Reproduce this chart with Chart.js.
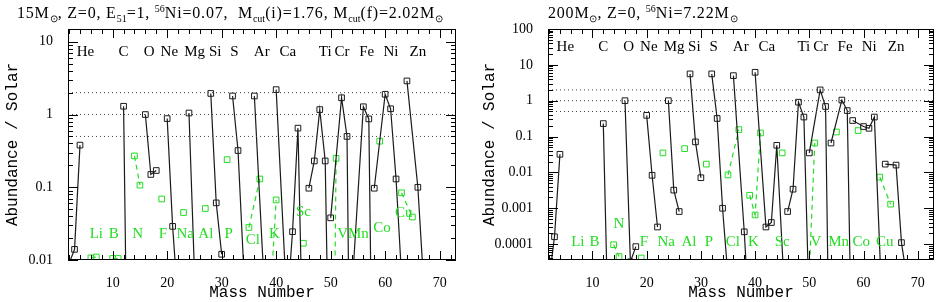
<!DOCTYPE html>
<html>
<head>
<meta charset="utf-8">
<script src="https://cdn.jsdelivr.net/npm/chart.js@4"></script>
<style>
body { margin: 0; background: #fff; width: 941px; height: 302px; overflow: hidden; position: relative; font-family: 'Liberation Serif', serif; }
.panel { position: absolute; top: 0; height: 302px; }
#p1 { left: 0; width: 470px; }
#p2 { left: 470px; width: 471px; }
.title { position: absolute; top: 2px; font-size: 16px; letter-spacing: 0.8px; white-space: pre; color: #000; line-height: 22px; }
.title sub, .title sup { font-size: 10px; line-height: 0; letter-spacing: 0; }
</style>
</head>
<body>
<div class="panel" id="p1">
  <canvas id="c1" width="470" height="302"></canvas>
  <div class="title" style="left:17px">15M<sub>⊙</sub>, Z=0, E<sub>51</sub>=1, <sup>56</sup>Ni=0.07,  M<sub>cut</sub>(i)=1.76, M<sub>cut</sub>(f)=2.02M<sub>⊙</sub></div>
</div>
<div class="panel" id="p2">
  <canvas id="c2" width="471" height="302"></canvas>
  <div class="title" style="left:78px">200M<sub>⊙</sub>, Z=0, <sup>56</sup>Ni=7.22M<sub>⊙</sub></div>
</div>
<script>
// even-Z elements (black), one list of mass numbers per element
const evenElements = ['He', 'C', 'O', 'Ne', 'Mg', 'Si', 'S', 'Ar', 'Ca', 'Ti', 'Cr', 'Fe', 'Ni', 'Zn'];
const evenMass = [[2, 3, 4], [12, 13], [16, 17, 18], [20, 21, 22], [24, 25, 26], [28, 29, 30], [32, 33, 34, 36],
    [36, 38, 40], [40, 42, 43, 44, 46, 48], [46, 47, 48, 49, 50], [50, 52, 53, 54], [54, 56, 57, 58],
    [58, 60, 61, 62, 64], [64, 66, 67, 68, 70]];
const evenLeft = [[0.009, 0.014, 0.38], [1.3, 3e-6], [1.0, 0.15, 0.17], [0.88, 0.029, 0.0025], [1.05, 0.007, 0.004],
    [1.95, 0.061, 0.012], [1.8, 0.32, 0.009, 1e-6], [1.8, 0.0023, 1e-6], [2.2, 0.0022, 0.0245, 0.65, 1e-7, 1e-8],
    [0.097, 0.23, 1.17, 0.23, 1e-5], [0.038, 1.7, 0.5, 1e-7], [0.005, 1.28, 0.87, 1e-6],
    [0.097, 1.9, 1.2, 0.13, 3e-4], [2.9, 0.1, 0.0058, 1e-4, 1e-6]];
const evenRight = [[1e-5, 1.6e-4, 0.032], [0.23, 1e-7], [1.0, 3.2e-5, 8.5e-5], [0.39, 0.0083, 3.0e-4], [1.0, 0.0032, 8.1e-4],
    [5.6, 0.071, 0.0071], [5.6, 0.32, 0.001, 1.4e-7], [5.0, 2.2e-4, 1e-9], [6.2, 3.0e-4, 4.0e-4, 0.057, 1e-7, 1e-8],
    [8.1e-4, 0.0034, 0.91, 0.35, 1.1e-6], [0.035, 2.0, 0.69, 1e-11], [0.066, 1.04, 0.53, 2e-9],
    [0.28, 0.19, 0.17, 0.35, 1.2e-8], [0.017, 0.016, 1.1e-4, 1.1e-5, 1e-7]];

// odd-Z elements (green)
const oddElements = ['Li', 'B', 'N', 'F', 'Na', 'Al', 'P', 'Cl', 'K', 'Sc', 'V', 'Mn', 'Co', 'Cu'];
const oddLeftMass = [[6, 7], [10, 11], [14, 15], [19], [23], [27], [31], [35, 37], [39, 40], [45], [50, 51], [59], [63, 65]];
const oddLeft = [[0.0107, 0.011], [0.0105, 0.0105], [0.27, 0.107], [0.069], [0.045], [0.051], [0.24], [0.028, 0.13],
    [0.0037, 0.067], [0.017], [1e-8, 0.25], [0.43], [0.084, 0.039]];
const oddRightMass = [[13.9, 14.9], [19], [23], [27], [31], [35, 37], [39, 40, 41], [45], [50, 51], [55], [59], [63, 65]];
const oddRight = [[9.6e-5, 4.5e-5], [4.1e-5], [0.035], [0.046], [0.017], [0.0085, 0.156], [0.0023, 6.5e-4, 0.126],
    [0.035], [1.6e-5, 0.066], [0.134], [0.147], [0.0074, 0.0013]];

// where the element names sit along the mass axis
const evenLabelPos = [5.0, 12, 16.7, 20.4, 25.05, 28.8, 32.35, 37.35, 42.15, 49.0, 52.1, 56.6, 61.05, 66.0];
const oddLabelPosLeft = [7.0, 10.2, 14.6, 19.2, 23.3, 27.1, 31.3, 35.7, 39.7, 45.0, 52.2, 55.1, 59.4, 63.4];
const oddLabelPosRight = [7.3, 10.4, 14.9, 19.5, 23.6, 27.8, 31.5, 35.9, 39.7, 45.0, 51.2, 55.4, 59.6, 63.9];

const refLevels = [2, 1, 0.5];
const xTicks = [10, 20, 30, 40, 50, 60, 70];
const yTicksLeft = [0.01, 0.1, 1, 10];
const yTicksRight = [0.0001, 0.001, 0.01, 0.1, 1, 10, 100];

const xMin = 1.8, xMax = 73;
const green = '#22dd22';

function makeDatasets(eMass, eVals, oMass, oVals) {
    const sets = [];
    refLevels.forEach(v => sets.push({
        data: [{x: xMin, y: v}, {x: xMax, y: v}],
        borderColor: '#444', borderWidth: 1, borderDash: [1, 3], pointRadius: 0
    }));
    eMass.forEach((m, i) => sets.push({
        data: m.map((a, j) => ({x: a, y: eVals[i][j]})),
        borderColor: '#1a1a1a', borderWidth: 1.2,
        pointStyle: 'rect', pointRadius: 4, pointBorderWidth: 1,
        pointBorderColor: '#1a1a1a', pointBackgroundColor: 'rgba(0,0,0,0)'
    }));
    oMass.forEach((m, i) => sets.push({
        data: m.map((a, j) => ({x: a, y: oVals[i][j]})),
        borderColor: green, borderWidth: 1.2, borderDash: [5, 4],
        pointStyle: 'rect', pointRadius: 4, pointBorderWidth: 1,
        pointBorderColor: green, pointBackgroundColor: 'rgba(0,0,0,0)'
    }));
    return sets;
}

// frame with inward ticks, element names and axis titles
const panelText = {
    id: 'panelText',
    afterDraw(chart, args, o) {
        const {ctx, chartArea: a, scales: {x, y}} = chart;
        ctx.save();
        ctx.strokeStyle = '#000';
        ctx.lineWidth = 1;
        ctx.strokeRect(a.left + 0.5, a.top + 0.5, a.right - a.left - 1, a.bottom - a.top - 1);
        ctx.beginPath();
        for (let v = 2; v <= xMax; v += 2) {
            const px = Math.round(x.getPixelForValue(v)) + 0.5;
            const len = v % 10 === 0 ? 9 : 5;
            ctx.moveTo(px, a.bottom); ctx.lineTo(px, a.bottom - len);
            ctx.moveTo(px, a.top); ctx.lineTo(px, a.top + len);
        }
        for (let d = -6; d <= 3; d++) {
            for (let k = 1; k <= 9; k++) {
                const v = k * Math.pow(10, d);
                if (v < y.min || v > y.max) continue;
                const py = Math.round(y.getPixelForValue(v)) + 0.5;
                const len = k === 1 ? 10 : 5;
                ctx.moveTo(a.left, py); ctx.lineTo(a.left + len, py);
                ctx.moveTo(a.right, py); ctx.lineTo(a.right - len, py);
            }
        }
        ctx.stroke();

        ctx.textAlign = 'center';
        ctx.textBaseline = 'middle';
        ctx.font = '15px "Liberation Serif", serif';
        ctx.fillStyle = '#000';
        evenElements.forEach((n, i) => ctx.fillText(n, x.getPixelForValue(evenLabelPos[i]), o.evenY));
        ctx.fillStyle = green;
        oddElements.forEach((n, i) => {
            const yy = o.oddYOverride[n] !== undefined ? o.oddYOverride[n] : o.oddY;
            ctx.fillText(n, x.getPixelForValue(o.oddPos[i]), yy);
        });

        ctx.fillStyle = '#000';
        ctx.font = '16px "Liberation Mono", monospace';
        ctx.fillText('Mass Number', (a.left + a.right) / 2, 293);
        ctx.translate(o.yTitleX, (a.top + a.bottom) / 2);
        ctx.rotate(-Math.PI / 2);
        ctx.fillText('Abundance / Solar', 0, 0);
        ctx.restore();
    }
};

function makeChart(id, sets, yMin, yMax, yTicks, yWidth, padRight, textOpts) {
    return new Chart(document.getElementById(id), {
        type: 'line',
        data: {datasets: sets},
        options: {
            responsive: false,
            animation: false,
            layout: {padding: {top: 29, right: padRight, left: 0, bottom: 0}},
            plugins: {legend: {display: false}, tooltip: {enabled: false}, panelText: textOpts},
            scales: {
                x: {
                    type: 'linear', min: xMin, max: xMax,
                    grid: {display: false}, border: {display: false},
                    afterBuildTicks: s => { s.ticks = xTicks.map(v => ({value: v})); },
                    afterFit: s => { s.height = 42; },
                    ticks: {color: '#000', padding: 7, maxRotation: 0, autoSkip: false,
                        font: {family: 'Liberation Serif', size: 14}}
                },
                y: {
                    type: 'logarithmic', min: yMin, max: yMax,
                    grid: {display: false}, border: {display: false},
                    afterBuildTicks: s => { s.ticks = yTicks.map(v => ({value: v})); },
                    afterFit: s => { s.width = yWidth; },
                    ticks: {color: '#000', padding: 7, autoSkip: false,
                        font: {family: 'Liberation Serif', size: 14},
                        callback: v => String(v)}
                }
            }
        },
        plugins: [panelText]
    });
}

makeChart('c1', makeDatasets(evenMass, evenLeft, oddLeftMass, oddLeft), 0.01, 15, yTicksLeft, 68, 14, {
    evenY: 52, oddY: 234, oddPos: oddLabelPosLeft,
    oddYOverride: {Cl: 240, Sc: 212, Co: 228, Cu: 213},
    yTitleX: 13
});
makeChart('c2', makeDatasets(evenMass, evenRight, oddRightMass, oddRight), 3.6e-5, 100, yTicksRight, 78, 7, {
    evenY: 47, oddY: 242, oddPos: oddLabelPosRight,
    oddYOverride: {N: 224},
    yTitleX: 20
});
</script>
</body>
</html>
